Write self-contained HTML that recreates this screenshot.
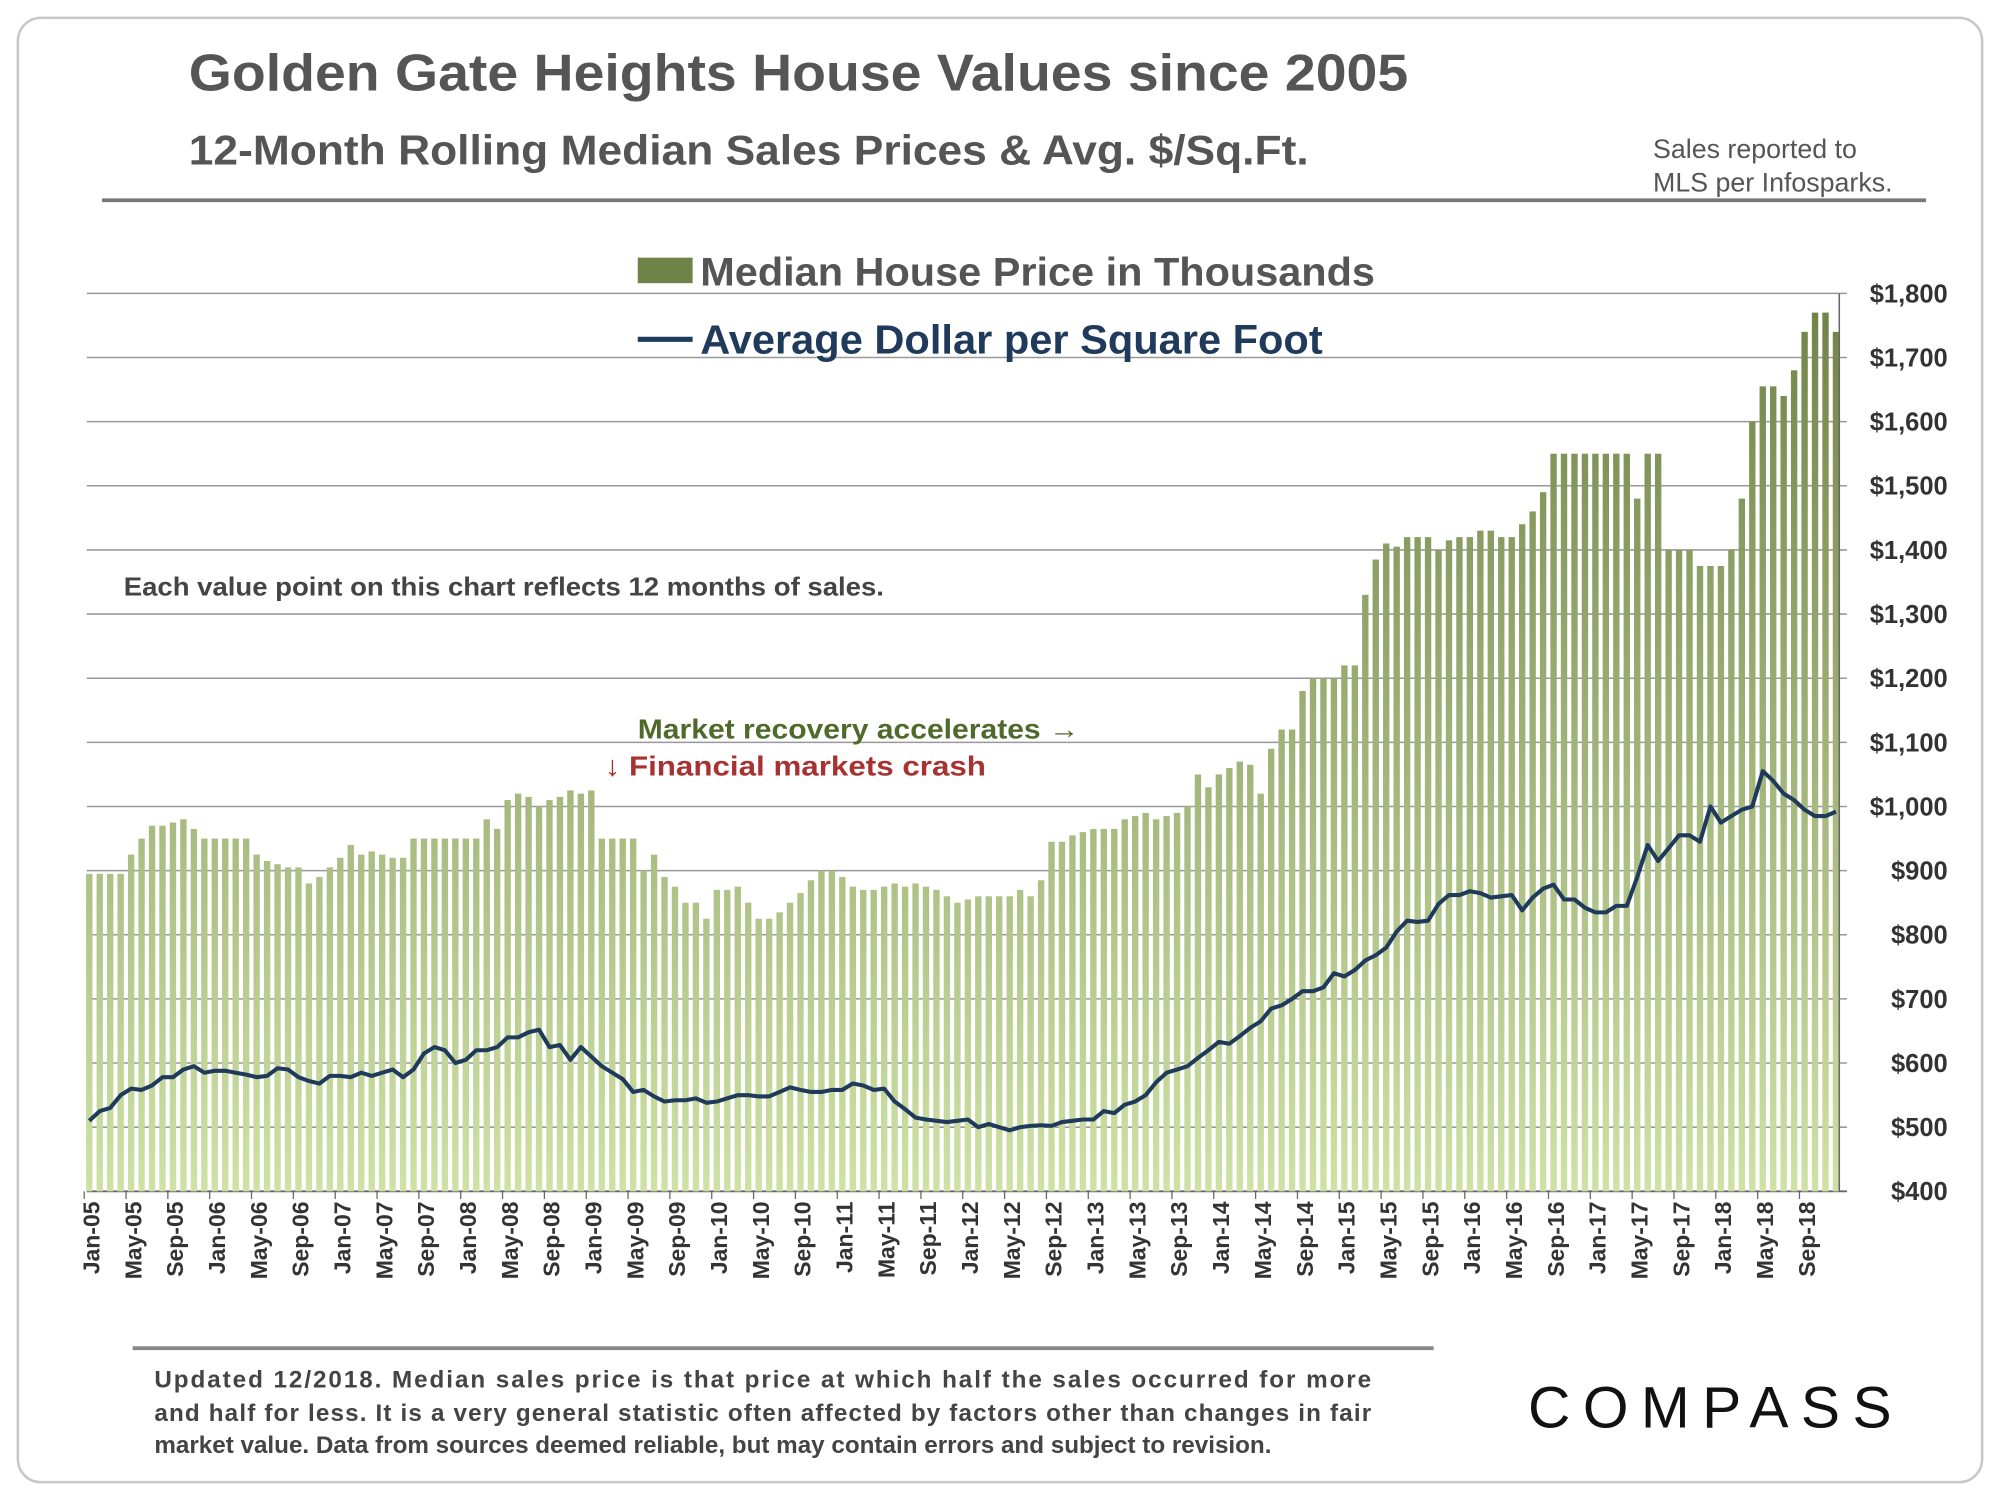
<!DOCTYPE html>
<html><head><meta charset="utf-8">
<style>
html,body{margin:0;padding:0;background:#fff;}
svg{display:block;font-family:"Liberation Sans",Arial,sans-serif;}
</style></head>
<body>
<svg id="chart" width="2000" height="1500" viewBox="0 0 1568 1176" xmlns="http://www.w3.org/2000/svg">
<defs>
<linearGradient id="barGrad" gradientUnits="userSpaceOnUse" x1="0" y1="230" x2="0" y2="934">
<stop offset="0" stop-color="#6f8248"/>
<stop offset="1" stop-color="#cfe2a6"/>
</linearGradient>
</defs>
<rect x="14" y="14" width="1540" height="1148" rx="18" fill="#fff" stroke="#c8c8c8" stroke-width="2"/>
<text x="148" y="71" font-size="41" font-weight="bold" fill="#555" textLength="956" lengthAdjust="spacingAndGlyphs">Golden Gate Heights House Values since 2005</text>
<text x="148" y="129" font-size="33" font-weight="bold" fill="#555" textLength="878" lengthAdjust="spacingAndGlyphs">12-Month Rolling Median Sales Prices &amp; Avg. $/Sq.Ft.</text>
<text font-size="21" fill="#555"><tspan x="1296" y="124">Sales reported to</tspan><tspan x="1296" y="150">MLS per Infosparks.</tspan></text>
<line x1="80" y1="157" x2="1510" y2="157" stroke="#777" stroke-width="3"/>
<g id="grid"></g>
<g id="bars"></g>
<path id="line" fill="none" stroke="#1f3a5a" stroke-width="3.2" stroke-linejoin="round"/>
<g id="yaxis"></g>
<g id="xaxis"></g>
<rect x="500" y="202" width="43" height="20" fill="url(#barGrad)"/>
<text x="549" y="224" font-size="31" font-weight="bold" fill="#555" textLength="529" lengthAdjust="spacingAndGlyphs">Median House Price in Thousands</text>
<line x1="500" y1="266" x2="543" y2="266" stroke="#1f3a5a" stroke-width="4"/>
<text x="549" y="277" font-size="32" font-weight="bold" fill="#1f3a5a" textLength="488" lengthAdjust="spacingAndGlyphs">Average Dollar per Square Foot</text>
<text x="97" y="467" font-size="20" font-weight="bold" fill="#444" textLength="596" lengthAdjust="spacingAndGlyphs">Each value point on this chart reflects 12 months of sales.</text>
<text x="500" y="579" font-size="22" font-weight="bold" fill="#4f6a2a" textLength="346" lengthAdjust="spacingAndGlyphs">Market recovery accelerates →</text>
<text x="474" y="608" font-size="22" font-weight="bold" fill="#a83232" textLength="299" lengthAdjust="spacingAndGlyphs">↓ Financial markets crash</text>
<line x1="104" y1="1057" x2="1124" y2="1057" stroke="#888" stroke-width="3"/>
<text font-size="19" font-weight="bold" fill="#444">
<tspan x="121" y="1088" textLength="954" lengthAdjust="spacing">Updated 12/2018. Median sales price is that price at which half the sales occurred for more</tspan>
<tspan x="121" y="1114" textLength="954" lengthAdjust="spacing">and half for less. It is a very general statistic often affected by factors other than changes in fair</tspan>
<tspan x="121" y="1139">market value. Data from sources deemed reliable, but may contain errors and subject to revision.</tspan>
</text>
<text x="1198" y="1119" font-size="46" fill="#111" textLength="285" lengthAdjust="spacing">COMPASS</text>
</svg>
<script>
const medianPrices = [
895,895,895,895,925,950,970,970,975,980,965,950,
950,950,950,950,925,915,910,905,905,880,890,905,
920,940,925,930,925,920,920,950,950,950,950,950,
950,950,980,965,1010,1020,1015,1000,1010,1015,1025,1020,
1025,950,950,950,950,900,925,890,875,850,850,825,
870,870,875,850,825,825,835,850,865,885,900,900,
890,875,870,870,875,880,875,880,875,870,860,850,
855,860,860,860,860,870,860,885,945,945,955,960,
965,965,965,980,985,990,980,985,990,1000,1050,1030,
1050,1060,1070,1065,1020,1090,1120,1120,1180,1200,1200,1200,
1220,1220,1330,1385,1410,1405,1420,1420,1420,1400,1415,1420,
1420,1430,1430,1420,1420,1440,1460,1490,1550,1550,1550,1550,
1550,1550,1550,1550,1480,1550,1550,1400,1400,1400,1375,1375,
1375,1400,1480,1600,1655,1655,1640,1680,1740,1770,1770,1740];
const pricePerSqft = [
510,525,530,550,560,558,565,578,578,590,595,585,
588,588,585,582,578,580,592,590,578,572,568,580,
580,578,585,580,585,590,578,590,615,625,620,600,
605,620,620,625,640,640,648,652,625,628,605,625,
610,595,585,575,555,558,548,540,542,542,545,538,
540,545,550,550,548,548,555,562,558,555,555,558,
558,568,565,558,560,540,528,515,512,510,508,510,
512,500,505,500,495,500,502,503,502,508,510,512,
512,525,522,535,540,550,570,585,590,595,608,620,
633,630,642,655,665,685,690,700,712,712,718,740,
735,745,760,768,780,805,822,820,822,848,862,862,
868,865,858,860,862,838,858,872,878,855,855,842,
835,835,845,845,890,940,915,935,955,955,945,1000,
975,985,995,1000,1055,1040,1020,1010,995,985,985,992];
const yTicks = [400,500,600,700,800,900,1000,1100,1200,1300,1400,1500,1600,1700,1800];
const monthNames = ["Jan","Feb","Mar","Apr","May","Jun","Jul","Aug","Sep","Oct","Nov","Dec"];
const startYear = 2005;

const NS="http://www.w3.org/2000/svg";
const X0=70, STEP=8.2, Y0=934, Y1=230, VMIN=400, VMAX=1800;
function xs(i){return X0+i*STEP;}
function ys(v){return Y0-(v-VMIN)/(VMAX-VMIN)*(Y0-Y1);}
function mk(tag,attrs){const e=document.createElementNS(NS,tag);for(const k in attrs)e.setAttribute(k,attrs[k]);return e;}

const grid=document.getElementById('grid'), yaxis=document.getElementById('yaxis');
yTicks.forEach(v=>{
  const y=ys(v);
  const l=mk('line',{x1:68,y1:y,x2:1448,y2:y,stroke:v===VMIN?'#666':'#999','stroke-width':v===VMIN?1.5:1.2});
  
  
  grid.appendChild(l);
  const t=mk('text',{x:1527,y:y+7,'text-anchor':'end','font-size':20,'font-weight':'bold',fill:'#333'});
  t.textContent='$'+v.toLocaleString('en-US');
  
  
  yaxis.appendChild(t);
});
const ax=mk('line',{x1:1442,y1:Y1,x2:1442,y2:Y0,stroke:'#666','stroke-width':1.2});


yaxis.appendChild(ax);

const bars=document.getElementById('bars');
medianPrices.forEach((v,i)=>{
  const r=mk('rect',{x:xs(i)-2.5,y:ys(v),width:5,height:Y0-ys(v),fill:'url(#barGrad)'});
  
  
  bars.appendChild(r);
});
document.getElementById('line').setAttribute('d',pricePerSqft.map((v,i)=>(i?'L':'M')+xs(i).toFixed(1)+','+ys(v).toFixed(1)).join(' '));

const xaxis=document.getElementById('xaxis');
for(let i=0;i<medianPrices.length;i+=4){
  const yr=startYear+Math.floor(i/12), m=i%12;
  const x=xs(i)+1;
  const t=mk('text',{x:0,y:0,transform:`translate(${x+7},942) rotate(-90)`,'text-anchor':'end','font-size':18,'font-weight':'bold',fill:'#333'});
  t.textContent=monthNames[m]+'-'+String(yr).slice(2);
  
  
  xaxis.appendChild(t);
  const tk=mk('line',{x1:xs(i)-4,y1:Y0,x2:xs(i)-4,y2:Y0+6,stroke:'#666'});
  
  
  xaxis.appendChild(tk);
}
</script>
</body></html>
